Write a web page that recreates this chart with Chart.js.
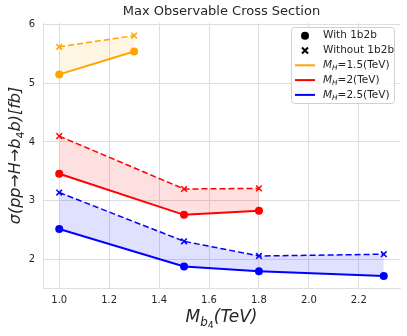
<!DOCTYPE html>
<html>
<head>
<meta charset="utf-8">
<script src="https://cdn.jsdelivr.net/npm/chart.js@4"></script>
<style>
  html, body { margin: 0; padding: 0; background: #fff; }
  #wrap { width: 407px; height: 336px; }
</style>
</head>
<body>
<div id="wrap"><canvas id="myChart" width="407" height="336"></canvas></div>
<script>
// Data
const xTicks = [1.0, 1.2, 1.4, 1.6, 1.8, 2.0, 2.2];
const yTicks = [2, 3, 4, 5, 6];

const xOrange = [1.0, 1.3];
const withOrange = [5.15, 5.54];
const withoutOrange = [5.62, 5.81];

const xRed = [1.0, 1.5, 1.8];
const withRed = [3.46, 2.76, 2.83];
const withoutRed = [4.10, 3.20, 3.21];

const xBlue = [1.0, 1.5, 1.8, 2.3];
const withBlue = [2.52, 1.88, 1.80, 1.72];
const withoutBlue = [3.14, 2.31, 2.06, 2.09];

const FONT = "'DejaVu Sans', sans-serif";
const TEXT = '#262626';
const GRID = '#dedede';

function pts(xs, ys) {
    return xs.map((x, i) => ({ x: x, y: ys[i] }));
}

function withSet(xs, ys, color) {
    return {
        data: pts(xs, ys),
        borderColor: color,
        backgroundColor: color,
        borderWidth: 2,
        pointStyle: 'circle',
        pointRadius: 4,
        pointBorderWidth: 0,
        fill: false
    };
}

function withoutSet(xs, ys, color, fillColor, target) {
    return {
        data: pts(xs, ys),
        borderColor: color,
        backgroundColor: fillColor,
        borderWidth: 1.5,
        borderDash: [6, 3],
        pointStyle: 'crossRot',
        pointRadius: 4,
        pointBorderWidth: 1.5,
        pointBorderColor: color,
        fill: { target: target }
    };
}

// draw text with subscripts: segs = [[text, level]]
function drawRich(ctx, segs, x, y, size, italicMain) {
    const fontFor = (lvl, italic) => {
        const s = lvl === 0 ? size : (lvl === 1 ? size * 0.7 : size * 0.55);
        return (italic ? 'italic ' : '') + s + 'px ' + FONT;
    };
    let total = 0;
    segs.forEach(s => {
        ctx.font = fontFor(s[1], s[2] !== undefined ? s[2] : italicMain);
        total += ctx.measureText(s[0]).width;
    });
    let cx = x - total / 2;
    ctx.textAlign = 'left';
    ctx.textBaseline = 'alphabetic';
    segs.forEach(s => {
        ctx.font = fontFor(s[1], s[2] !== undefined ? s[2] : italicMain);
        const off = s[1] === 0 ? 0 : (s[1] === 1 ? size * 0.22 : size * 0.36);
        ctx.fillText(s[0], cx, y + off);
        cx += ctx.measureText(s[0]).width;
    });
    return total;
}

function drawRichLeft(ctx, segs, x, y, size) {
    let cx = x;
    ctx.textAlign = 'left';
    ctx.textBaseline = 'middle';
    segs.forEach(s => {
        const sz = s[1] === 0 ? size : size * 0.7;
        ctx.font = (s[2] ? 'italic ' : '') + sz + 'px ' + FONT;
        const off = s[1] === 0 ? 0 : size * 0.3;
        ctx.fillText(s[0], cx, y + off);
        cx += ctx.measureText(s[0]).width;
    });
}

const decorations = {
    id: 'decorations',
    afterDraw(chart) {
        const ctx = chart.ctx;
        const area = chart.chartArea;
        const midX = (area.left + area.right) / 2;
        ctx.save();
        ctx.fillStyle = TEXT;

        // title
        ctx.font = '13px ' + FONT;
        ctx.textAlign = 'center';
        ctx.textBaseline = 'middle';
        ctx.fillText('Max Observable Cross Section', midX, 12);

        // x axis title
        drawRich(ctx, [['M', 0], ['b', 1], ['4', 2, false], ['(TeV)', 0]], midX, 322, 17, true);

        // y axis title
        ctx.save();
        ctx.translate(20, (area.top + area.bottom) / 2);
        ctx.rotate(-Math.PI / 2);
        drawRich(ctx, [['σ(pp→H→b', 0], ['4', 1, false], ['b)[fb]', 0]], 0, 0, 16, true);
        ctx.restore();

        // legend
        const bx = 291, by = 27, bw = 103, bh = 76;
        ctx.beginPath();
        ctx.roundRect(bx + 0.5, by + 0.5, bw, bh, 3);
        ctx.fillStyle = 'rgba(255,255,255,0.85)';
        ctx.fill();
        ctx.strokeStyle = '#d0d0d0';
        ctx.lineWidth = 1;
        ctx.stroke();

        const rows = [35.7, 50.5, 65.3, 80.1, 94.9];
        const mx = 305, tx = 323, fs = 10.5;
        ctx.fillStyle = '#000';
        ctx.beginPath();
        ctx.arc(mx, rows[0], 4, 0, Math.PI * 2);
        ctx.fill();
        ctx.strokeStyle = '#000';
        ctx.lineWidth = 2;
        ctx.beginPath();
        ctx.moveTo(mx - 3, rows[1] - 3); ctx.lineTo(mx + 3, rows[1] + 3);
        ctx.moveTo(mx + 3, rows[1] - 3); ctx.lineTo(mx - 3, rows[1] + 3);
        ctx.stroke();

        const lineRows = [['#FFA500', '=1.5(TeV)'], ['#FF0000', '=2(TeV)'], ['#0000FF', '=2.5(TeV)']];
        lineRows.forEach((r, i) => {
            const y = rows[i + 2];
            ctx.strokeStyle = r[0];
            ctx.lineWidth = 2;
            ctx.beginPath();
            ctx.moveTo(295, y); ctx.lineTo(315, y);
            ctx.stroke();
        });

        ctx.fillStyle = TEXT;
        ctx.font = fs + 'px ' + FONT;
        ctx.textAlign = 'left';
        ctx.textBaseline = 'middle';
        ctx.fillText('With 1b2b', tx, rows[0]);
        ctx.fillText('Without 1b2b', tx, rows[1]);
        lineRows.forEach((r, i) => {
            drawRichLeft(ctx, [['M', 0, true], ['H', 1, true], [r[1], 0, false]], tx, rows[i + 2], fs);
        });

        ctx.restore();
    }
};

const ctx = document.getElementById('myChart').getContext('2d');
const myChart = new Chart(ctx, {
    type: 'line',
    data: {
        datasets: [
            withSet(xOrange, withOrange, '#FFA500'),
            withoutSet(xOrange, withoutOrange, '#FFA500', 'rgba(255,165,0,0.11)', 0),
            withSet(xRed, withRed, '#FF0000'),
            withoutSet(xRed, withoutRed, '#FF0000', 'rgba(255,0,0,0.12)', 2),
            withSet(xBlue, withBlue, '#0000FF'),
            withoutSet(xBlue, withoutBlue, '#0000FF', 'rgba(0,0,255,0.12)', 4)
        ]
    },
    options: {
        responsive: false,
        animation: false,
        layout: {
            padding: { left: 0, right: 7, top: 23, bottom: 0 }
        },
        plugins: {
            legend: { display: false },
            tooltip: { enabled: false },
            title: { display: false }
        },
        scales: {
            x: {
                type: 'linear',
                min: 0.935,
                max: 2.365,
                afterBuildTicks: (scale) => {
                    scale.ticks = xTicks.map(v => ({ value: v }));
                },
                afterFit: (scale) => { scale.height = 48; },
                grid: { color: GRID, drawTicks: false },
                border: { color: GRID },
                ticks: {
                    color: TEXT,
                    padding: 6,
                    font: { family: FONT, size: 10 },
                    callback: (v) => v.toFixed(1)
                }
            },
            y: {
                type: 'linear',
                min: 1.515,
                max: 6.025,
                afterBuildTicks: (scale) => {
                    scale.ticks = yTicks.map(v => ({ value: v }));
                },
                afterFit: (scale) => { scale.width = 43; },
                grid: { color: GRID, drawTicks: false },
                border: { color: GRID },
                ticks: {
                    color: TEXT,
                    padding: 8,
                    font: { family: FONT, size: 10 },
                    callback: (v) => String(v)
                }
            }
        }
    },
    plugins: [decorations]
});
</script>
</body>
</html>
